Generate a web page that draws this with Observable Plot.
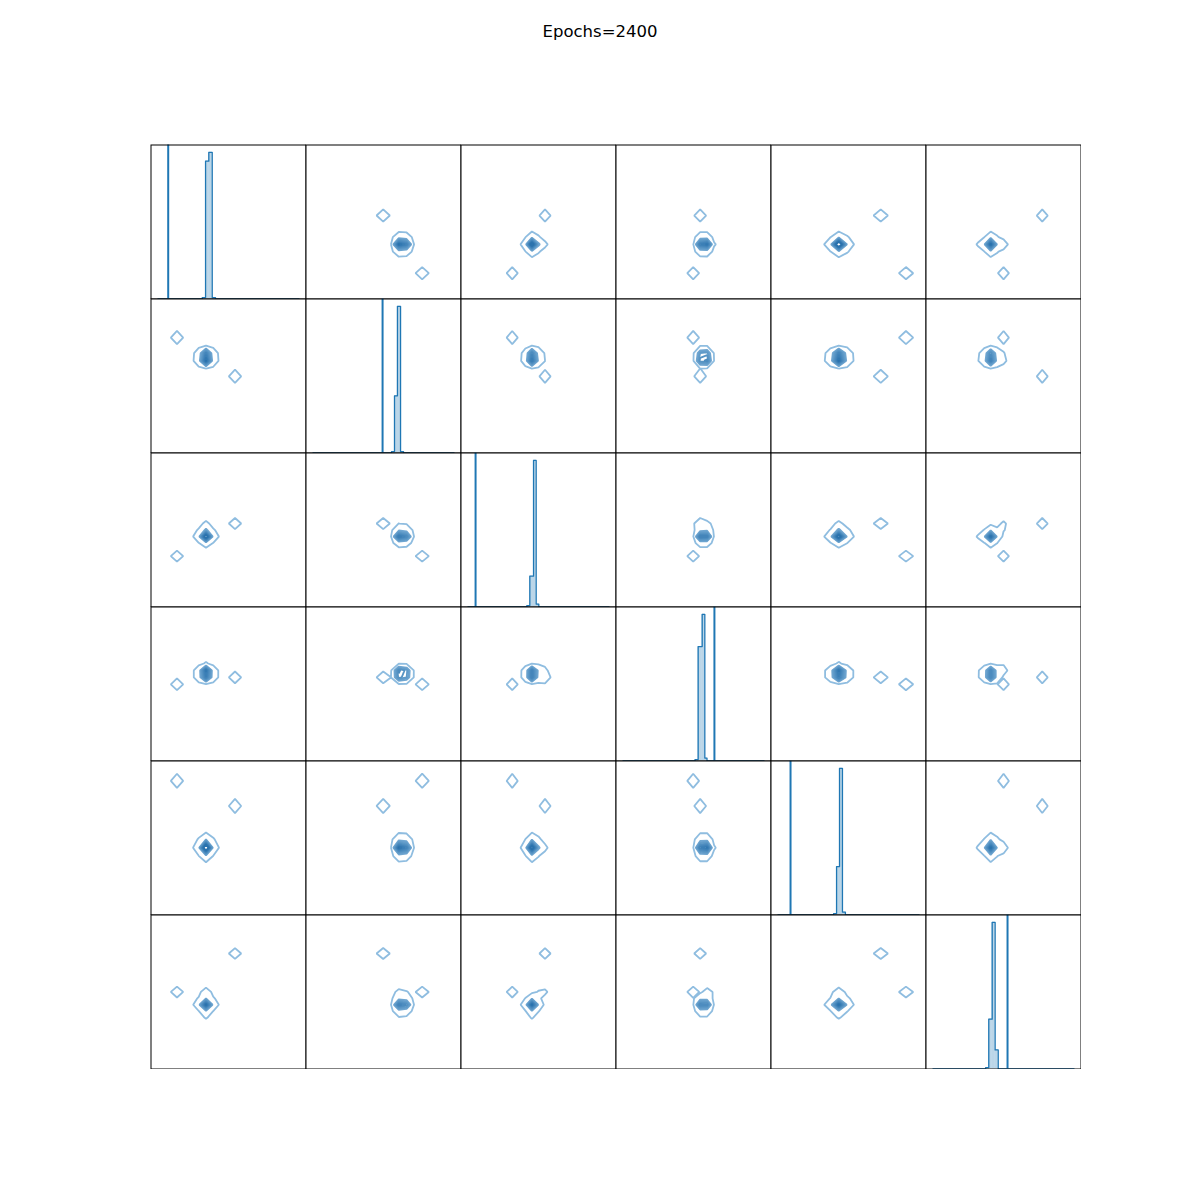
<!DOCTYPE html>
<html><head><meta charset="utf-8">
<script src="https://cdn.jsdelivr.net/npm/d3@7"></script>
<script src="https://cdn.jsdelivr.net/npm/@observablehq/plot@0.6"></script>
<style>
body{margin:0;background:#fff;}
#fig{position:relative;width:1200px;height:1200px;font-family:"DejaVu Sans",sans-serif;background:#fff;}
#title{position:absolute;top:22px;left:0;width:1200px;text-align:center;font-size:16.5px;color:#000;}
#fig svg{position:absolute;background:transparent;}
</style></head><body>
<div id="fig"><div id="title">Epochs=2400</div></div>
<script>
// ---- Data (each variable normalised to its axis, 0..1) ----
// Samples: core cluster, outlier A, outlier B, minor point C, minor point D
const sampleWeight = [1, 0.30, 0.30, 0.17, 0.15];
const sampleKernel = [0.60, 0.42, 0.42, 0.42, 0.42];   // kernel width in grid steps
const p0 = [0.355, 0.542, 0.168, 0.355, 0.355];
const p1 = [0.620, 0.498, 0.750, 0.620, 0.620];
const p2 = [0.460, 0.542, 0.330, 0.523, 0.460];
const p3 = [0.565, 0.543, 0.498, 0.600, 0.565];
const p4 = [0.440, 0.708, 0.873, 0.440, 0.440];
const p5 = [0.420, 0.750, 0.498, 0.498, 0.355];

// KDE evaluation grid step of each variable (axis units)
const kdeGridStep = [0.0468, 0.0503, 0.0423, 0.0450, 0.0542, 0.0416];
// contour levels, relative to the cluster weight
const kdeLevels = [0.06, 0.32, 0.4, 0.48, 0.56, 0.64, 0.72, 0.8, 0.88, 0.95];

// Vertical reference line on each diagonal panel
const trueValues = [0.111, 0.494, 0.094, 0.635, 0.126, 0.526];

// Histogram bin edges and relative counts on the diagonal panels
const histRange = [0.045, 0.955];
const histEdges = [
  [0.331, 0.352, 0.373, 0.395, 0.416],
  [0.552, 0.571, 0.590, 0.610, 0.629],
  [0.425, 0.444, 0.468, 0.485, 0.502],
  [0.510, 0.530, 0.556, 0.573, 0.587],
  [0.404, 0.423, 0.442, 0.461, 0.480],
  [0.385, 0.405, 0.427, 0.446, 0.466]
];
const histCounts = [
  [0.01, 0.94, 1.00, 0.01],
  [0.01, 0.39, 1.00, 0.01],
  [0.01, 0.21, 1.00, 0.02],
  [0.01, 0.78, 1.00, 0.02],
  [0.01, 0.33, 1.00, 0.02],
  [0.01, 0.34, 1.00, 0.13]
];

// ---- Drawing ----
const params = [p0, p1, p2, p3, p4, p5];
const nVar = params.length;
const cellW = 155, cellH = 154, left0 = 150, top0 = 144;
const blue = "#1f77b4";
const fig = document.getElementById("fig");

// grid nodes of a variable: anchored on sample A, spaced by the grid step, covering the axis
function nodes(v) {
  const s = kdeGridStep[v], a = params[v][1];
  const k0 = Math.ceil((0 - a) / s), k1 = Math.floor((1 - a) / s);
  return d3.range(k0, k1 + 1).map(k => a + k * s);
}

function kdeGrid(i, j) {
  const X = nodes(j), Y = nodes(i);
  const sx = kdeGridStep[j], sy = kdeGridStep[i];
  const values = new Array(X.length * Y.length);
  for (let r = 0; r < Y.length; r++) {
    for (let c = 0; c < X.length; c++) {
      let v = 0;
      for (let k = 0; k < sampleWeight.length; k++) {
        const h2 = 2 * sampleKernel[k] * sampleKernel[k];
        const dx = (X[c] - params[j][k]) / sx, dy = (Y[r] - params[i][k]) / sy;
        v += sampleWeight[k] * Math.exp(-(dx * dx + dy * dy) / h2);
      }
      values[r * X.length + c] = v;
    }
  }
  return {
    values, width: X.length, height: Y.length,
    x1: X[0] - sx / 2, x2: X[X.length - 1] + sx / 2,
    y1: Y[0] - sy / 2, y2: Y[Y.length - 1] + sy / 2
  };
}

for (let i = 0; i < nVar; i++) {
  for (let j = 0; j < nVar; j++) {
    let svg;
    const common = {
      width: cellW + 1, height: cellH + 1, margin: 0.5,
      x: {domain: [0, 1], axis: null},
    };
    if (i === j) {
      const E = histEdges[i], C = histCounts[i];
      const bins = C.map((c, k) => ({x1: E[k], x2: E[k + 1], y: c}));
      const step = [{x: histRange[0], y: 0}]
        .concat(bins.map(b => ({x: b.x1, y: b.y})))
        .concat([{x: E[E.length - 1], y: 0}, {x: histRange[1], y: 0}]);
      svg = Plot.plot({
        ...common,
        y: {domain: [0, 1.05], axis: null},
        marks: [
          Plot.rect(bins, {x1: "x1", x2: "x2", y1: 0, y2: "y", fill: blue, fillOpacity: 0.3}),
          Plot.line(step, {x: "x", y: "y", curve: "step-after", stroke: blue, strokeWidth: 1.3}),
          Plot.ruleX([trueValues[i]], {stroke: blue, strokeWidth: 2}),
          Plot.frame({stroke: "black", strokeWidth: 1})
        ]
      });
    } else {
      const g = kdeGrid(i, j);
      svg = Plot.plot({
        ...common,
        y: {domain: [0, 1], axis: null},
        color: {type: "linear", domain: [kdeLevels[0], kdeLevels[kdeLevels.length - 1]],
                range: ["#8fbde0", "#2a72ad"]},
        marks: [
          Plot.contour(g.values, {
            x1: g.x1, x2: g.x2, y1: g.y1, y2: g.y2, width: g.width, height: g.height,
            thresholds: kdeLevels,
            fill: "none", stroke: Plot.identity, strokeWidth: 1.8
          }),
          Plot.frame({stroke: "black", strokeWidth: 1})
        ]
      });
    }
    svg.style.left = (left0 + j * cellW) + "px";
    svg.style.top = (top0 + i * cellH) + "px";
    fig.appendChild(svg);
  }
}
</script>
</body></html>
